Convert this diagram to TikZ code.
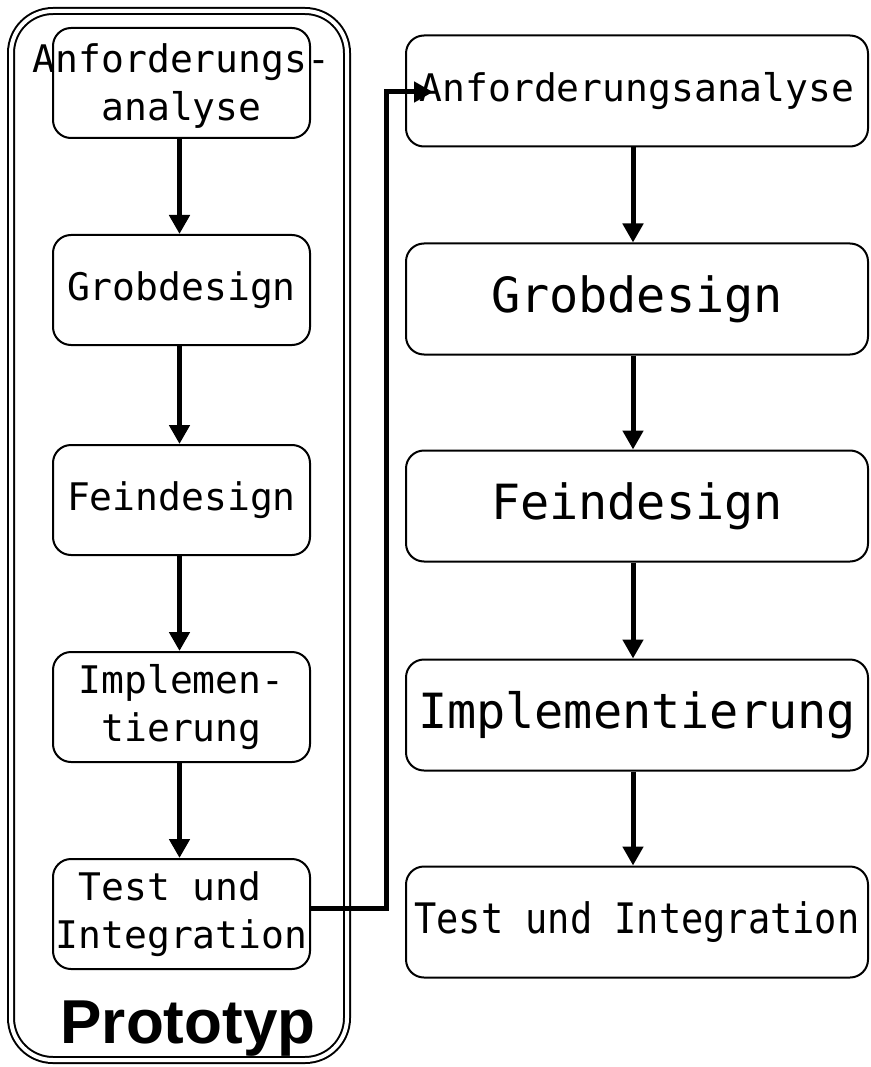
\documentclass[tikz,border=0pt]{standalone}
\usepackage{fontspec}
\setmonofont{DejaVu Sans Mono}
\newfontfamily\protofont{Liberation Sans}
\usetikzlibrary{arrows.meta}
\tikzset{
  stagebox/.style={draw, line width=2pt, rounded corners=18pt, inner sep=0pt},
  leftbox/.style={stagebox, minimum width=257pt, minimum height=110pt},
  rightbox/.style={stagebox, minimum width=462pt, minimum height=111pt},
  lefttxt/.style={font=\ttfamily\fontsize{38}{48}\selectfont, align=center, inner sep=0pt},
  bigtxt/.style={font=\ttfamily\fontsize{48.5}{56}\selectfont, inner sep=0pt},
  flow/.style={line width=5pt, -{Triangle[length=19pt,width=20pt]}},
}
\begin{document}
\begin{tikzpicture}[x=1pt,y=-1pt]
\useasboundingbox (0,0) rectangle (870,1067);
% outer prototype frame
\draw[line width=2pt, double, double distance=4pt, rounded corners=42pt] (11,11) rectangle (347,1060);
\node[font=\protofont\bfseries\fontsize{62}{70}\selectfont, inner sep=0pt, anchor=base] (proto) at (188,1043) {Prototyp};
% left column
\node[leftbox] (l1) at (181.5,83) {};
\node[leftbox] (l2) at (181.5,290) {};
\node[leftbox] (l3) at (181.5,500) {};
\node[leftbox] (l4) at (181.5,707) {};
\node[leftbox] (l5) at (181.5,914) {};
\node[lefttxt] (tl1) at ([yshift=-3pt]l1.center) {Anforderungs-\\analyse};
\node[lefttxt] (tl2) at (l2.center) {Grobdesign};
\node[lefttxt] (tl3) at (l3.center) {Feindesign};
\node[lefttxt] (tl4) at (l4.center) {Implemen-\\tierung};
\node[lefttxt] (tl5) at (l5.center) {Test und\hphantom{x}\\Integration};
% right column
\node[rightbox] (r1) at (637,91) {};
\node[rightbox] (r2) at (637,299) {};
\node[rightbox] (r3) at (637,506) {};
\node[rightbox] (r4) at (637,715) {};
\node[rightbox] (r5) at (637,922) {};
\node[lefttxt] (tr1) at (r1.center) {Anforderungsanalyse};
\node[bigtxt] (tr2) at (r2.center) {Grobdesign};
\node[bigtxt] (tr3) at (r3.center) {Feindesign};
\node[bigtxt] (tr4) at (r4.center) {Implementierung};
\node[font=\ttfamily\fontsize{42}{50}\selectfont, inner sep=0pt, xscale=0.88] (tr5) at (r5.center) {Test und Integration};
% arrows
\draw[flow] ([xshift=-2pt]l1.south) -- ([xshift=-2pt]l2.north);
\draw[flow] ([xshift=-2pt]l2.south) -- ([xshift=-2pt]l3.north);
\draw[flow] ([xshift=-2pt]l3.south) -- ([xshift=-2pt]l4.north);
\draw[flow] ([xshift=-2pt]l4.south) -- ([xshift=-2pt]l5.north);
\draw[flow] ([xshift=-4pt]r1.south) -- ([xshift=-4pt]r2.north);
\draw[flow] ([xshift=-4pt]r2.south) -- ([xshift=-4pt]r3.north);
\draw[flow] ([xshift=-4pt]r3.south) -- ([xshift=-4pt]r4.north);
\draw[flow] ([xshift=-4pt]r4.south) -- ([xshift=-4pt]r5.north);
% connector from prototype to main process
\coordinate (vx) at (386,0);
\coordinate (tip) at (433,92);
\draw[flow, line join=miter] ([yshift=6pt]l5.east) -- ([yshift=6pt]l5.east -| vx) -- (vx |- tip) -- (tip);
\end{tikzpicture}
\end{document}
